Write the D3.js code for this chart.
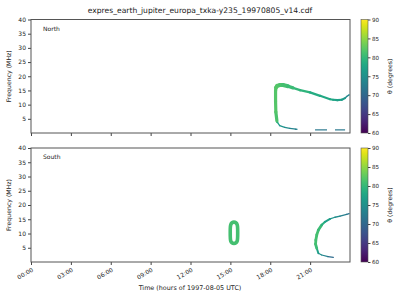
<!DOCTYPE html>
<html><head><meta charset="utf-8">
<script src="https://cdn.jsdelivr.net/npm/d3@7"></script>
<style>
body{margin:0;background:#fff;}
text{font-family:"DejaVu Sans",sans-serif;fill:#222;}
</style></head>
<body><svg id="c" width="400" height="300"></svg>
<script>
// ---- data ----
const title = "expres_earth_jupiter_europa_txka-y235_19970805_v14.cdf";
const xTickHours = [0,3,6,9,12,15,18,21];
const yTicks = [5,10,15,20,25,30,35,40];
const cbTicks = [60,65,70,75,80,85,90];
const panelNames = ["North","South"];

// North hemisphere emission (time in hours, frequency MHz, theta degrees)
const northArcT = [18.50,18.42,18.40,18.40,18.43,18.52,18.72,18.96,19.34,19.71];
const northArcF = [4.3,7.4,11.3,14.9,16.0,16.6,16.9,16.9,16.5,15.9];
const northArcTheta = [81,82,82,82,82,82,82,81,81,80];

const northBranchT = [19.71,20.24,20.99,21.75,22.50,22.73,23.05,23.38,23.63,23.75,23.93];
const northBranchF = [15.9,15.1,14.3,13.1,11.9,11.7,11.6,11.7,12.3,12.85,13.45];
const northBranchTheta = [80,80,79,78,78,78,77,77,76,74,73];

const northTailT = [18.50,18.53,18.71,19.09,19.47,19.94];
const northTailF = [4.3,3.8,2.6,2.0,1.66,1.4];
const northTailTheta = [80,78,76,75,74,73];

const northDashT0 = [19.85,21.37,22.87];
const northDashT1 = [20.05,22.27,23.63];
const northDashF = [1.3,1.1,1.1];
const northDashTheta = [73,72,72];

// South hemisphere emission
const southOvalT = [15.27,15.51,15.55,15.51,15.27,15.03,14.99,15.03];
const southOvalF = [14.0,13.1,10.3,7.3,6.5,7.3,10.3,13.1];
const southOvalTheta = 81;

const southArcT = [21.50,21.41,21.43,21.50,21.62,21.87,22.12,22.50,22.87,23.25,23.75,23.93];
const southArcF = [4.8,6.3,7.7,9.5,11.2,13.0,14.1,15.1,15.7,16.1,16.7,17.0];
const southArcTheta = [80,81,81,81,81,80,78,76,75,74,72,71];

const southTailT = [21.50,21.62,21.87,22.35,22.75];
const southTailF = [4.8,3.05,2.46,1.86,1.65];
const southTailTheta = [78,76,74,73,68];

// ---- layout ----
const svg = d3.select("#c");
const L = 31, R = 350;
const panels = [{top:19.5,bottom:133},{top:148,bottom:262}];
const x = d3.scaleLinear().domain([0,24]).range([L,R]);
const color = d3.scaleSequential(d3.interpolateViridis).domain([60,90]);
const fmt = h => String(h).padStart(2,"0")+":00";

svg.append("text").attr("x",200).attr("y",13).attr("text-anchor","middle")
  .attr("font-size",7.6).text(title);

const grad = svg.append("defs").append("linearGradient").attr("id","vir")
  .attr("x1",0).attr("y1",1).attr("x2",0).attr("y2",0);
d3.range(0,1.0001,0.05).forEach(s=>grad.append("stop").attr("offset",s).attr("stop-color",d3.interpolateViridis(s)));

const ys = [];
panels.forEach((p,i)=>{
  const y = d3.scaleLinear().domain([0,40]).range([p.bottom,p.top]);
  ys.push(y);
  const g = svg.append("g");
  const ya = g.append("g").attr("transform",`translate(${L},0)`)
    .call(d3.axisLeft(y).tickValues(yTicks).tickSize(3).tickPadding(2));
  ya.select(".domain").remove();
  ya.selectAll("text").attr("font-size",6).style("font-family","DejaVu Sans");
  ya.selectAll("line").attr("stroke","#444");
  const xa = g.append("g").attr("transform",`translate(0,${p.bottom})`)
    .call(d3.axisBottom(x).tickValues(xTickHours).tickFormat(i===1?fmt:"").tickSize(3));
  xa.select(".domain").remove();
  xa.selectAll("line").attr("stroke","#444");
  if(i===1){
    xa.selectAll(".tick text").attr("font-size",6).style("font-family","DejaVu Sans")
      .attr("text-anchor","end").attr("x",0).attr("y",2.5).attr("dy","0.35em")
      .attr("transform","translate(0,5) rotate(-30)");
  }
  g.append("rect").attr("x",L).attr("y",p.top).attr("width",R-L).attr("height",p.bottom-p.top)
    .attr("fill","none").attr("stroke","#555").attr("stroke-width",1);
  g.append("text").attr("x",43).attr("y",p.top+11).attr("font-size",6).text(panelNames[i]);
  g.append("text").attr("transform",`translate(11,${(p.top+p.bottom)/2}) rotate(-90)`)
    .attr("text-anchor","middle").attr("font-size",6.2).text("Frequency (MHz)");
  const cy = d3.scaleLinear().domain([60,90]).range([p.bottom,p.top]);
  g.append("rect").attr("x",361).attr("y",p.top).attr("width",7).attr("height",p.bottom-p.top)
    .attr("fill","url(#vir)").attr("stroke","#555").attr("stroke-width",0.6);
  const ca = g.append("g").attr("transform","translate(368,0)")
    .call(d3.axisRight(cy).tickValues(cbTicks).tickSize(2.5).tickPadding(1.5));
  ca.select(".domain").remove();
  ca.selectAll("text").attr("font-size",5.6).style("font-family","DejaVu Sans");
  ca.selectAll("line").attr("stroke","#444");
  g.append("text").attr("transform",`translate(392,${(p.top+p.bottom)/2}) rotate(-90)`)
    .attr("text-anchor","middle").attr("font-size",6.2).text("θ (degrees)");
});

svg.append("text").attr("x",190).attr("y",290).attr("text-anchor","middle")
  .attr("font-size",6.4).text("Time (hours of 1997-08-05 UTC)");

function segs(y, T, F, Th, widthFn){
  const g = svg.append("g");
  for(let k=0;k<T.length-1;k++){
    const j=k+1;
    g.append("line")
      .attr("x1",x(T[k])).attr("y1",y(F[k])).attr("x2",x(T[j])).attr("y2",y(F[j]))
      .attr("stroke",color((Th[k]+Th[j])/2)).attr("stroke-width",widthFn(k))
      .attr("stroke-linecap","round");
  }
}
const yN = ys[0], yS = ys[1];
segs(yN, northTailT, northTailF, northTailTheta, k=>k<1?2.2:1.3);
segs(yN, northBranchT, northBranchF, northBranchTheta, k=>k<3?2.4:(k<8?2.1:1.4));
segs(yN, northArcT, northArcF, northArcTheta, k=>k>=4&&k<8?4:3.2);
northDashT0.forEach((t0,k)=>{
  svg.append("line").attr("x1",x(t0)).attr("x2",x(northDashT1[k]))
    .attr("y1",yN(northDashF[k])).attr("y2",yN(northDashF[k]))
    .attr("stroke",color(northDashTheta[k])).attr("stroke-width",1.2);
});
const ovalLine = d3.line().x(i=>x(southOvalT[i])).y(i=>yS(southOvalF[i])).curve(d3.curveCardinalClosed);
svg.append("path").attr("d",ovalLine(d3.range(southOvalT.length)))
  .attr("fill","none").attr("stroke",color(southOvalTheta)).attr("stroke-width",3.6);
segs(yS, southTailT, southTailF, southTailTheta, k=>k<1?2:1.2);
segs(yS, southArcT, southArcF, southArcTheta, k=>k<5?2.8:(k<7?2:1.3));
</script></body></html>
